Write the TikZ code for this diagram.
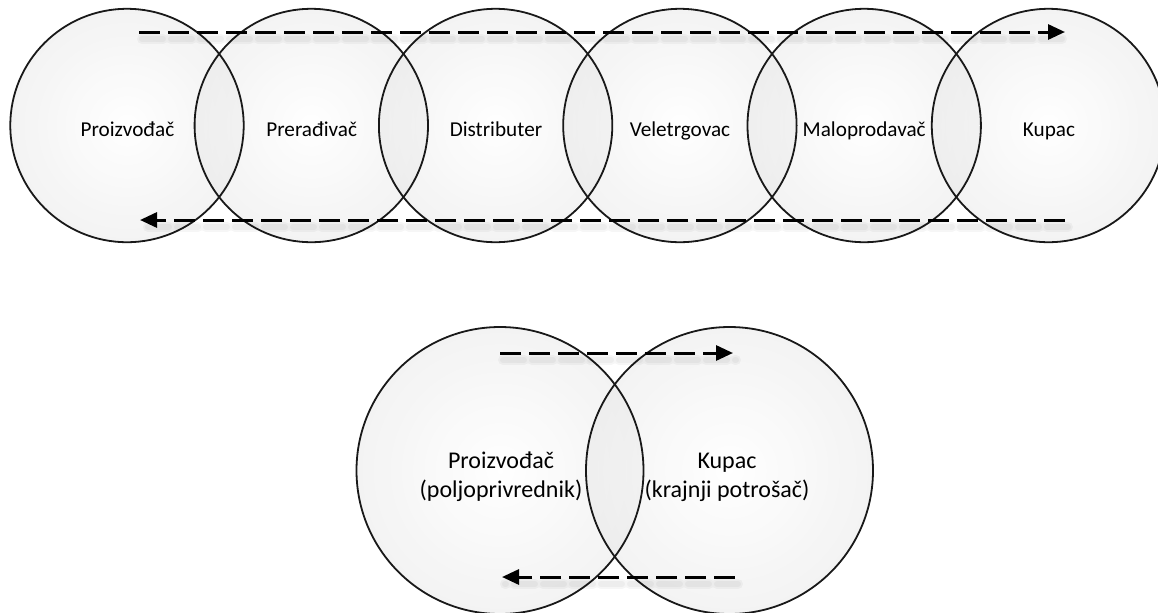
\documentclass[tikz,border=0pt]{standalone}
\usepackage{fontspec}
\setmainfont{Carlito}
\usetikzlibrary{arrows.meta}
\begin{document}
\begin{tikzpicture}[x=0.5pt,y=-0.5pt,
  bubble/.style={circle, minimum size=#1, inner sep=0pt, inner color=white, outer color=black!10, fill opacity=0.45},
  ring/.style={draw=black!90, line width=0.9pt},
  toplabel/.style={font=\fontsize{10.6pt}{12.9pt}\selectfont, anchor=base, inner sep=0pt},
  botlabel/.style={font=\fontsize{12pt}{14.25pt}\selectfont, anchor=base, inner sep=0pt, align=center},
  flow/.style={line width=1.5pt, dash pattern=on 10.5pt off 4pt, -{Triangle[length=8.5pt,width=7.5pt]}},
  flowshadow/.style={line width=#1, black, opacity=0.035, dash pattern=on 10.5pt off 4pt, line cap=round}
]
\useasboundingbox (0,0) rectangle (1158,612);
\fill[white] (0,0) rectangle (1158,612);

% top row circles
\node[bubble=116.7pt] (c1) at (127,125.5) {};
\node[bubble=116.7pt] (c2) at (311.3,125.5) {};
\node[bubble=116.7pt] (c3) at (495.6,125.5) {};
\node[bubble=116.7pt] (c4) at (679.9,125.5) {};
\node[bubble=116.7pt] (c5) at (864.2,125.5) {};
\node[bubble=116.7pt] (c6) at (1048.5,125.5) {};
\foreach \n in {c1,c2,c3,c4,c5,c6} {\draw[ring] (\n.center) circle[radius=58.35pt];}

% bottom circles
\node[bubble=143.5pt] (p1) at (500,470.5) {};
\node[bubble=143.5pt] (p2) at (729.5,470.5) {};
\foreach \n in {p1,p2} {\draw[ring] (\n.center) circle[radius=71.75pt];}

% labels
\node[toplabel] (t1) at (127.5,136.7) {Proizvođač};
\node[toplabel] (t2) at (311.7,136.7) {Prerađivač};
\node[toplabel] (t3) at (496,136.7) {Distributer};
\node[toplabel] (t4) at (680,136.7) {Veletrgovac};
\node[toplabel] (t5) at (864.2,136.7) {Maloprodavač};
\node[toplabel] (t6) at (1049,136.7) {Kupac};
\node[botlabel] (u1) at (501,497) {Proizvođač\\(poljoprivrednik)};
\node[botlabel] (u2) at (727,497) {Kupac\\(krajnji potrošač)};

% arrow end points
\coordinate (f1s) at (139,32);   \coordinate (f1e) at (1065,32);
\coordinate (b1s) at (1065,220); \coordinate (b1e) at (140,220);
\coordinate (f2s) at (500,353);  \coordinate (f2e) at (733,353);
\coordinate (b2s) at (735,577);  \coordinate (b2e) at (502,577);

% soft shadows
\foreach \a/\b in {f1s/f1e,b1s/b1e,f2s/f2e,b2s/b2e} {
  \draw[flowshadow=5pt] ([shift={(3,7)}]\a) -- ([shift={(3,7)}]\b);
  \draw[flowshadow=3pt] ([shift={(3,7)}]\a) -- ([shift={(3,7)}]\b);
}
% arrows
\draw[flow] (f1s) -- (f1e);
\draw[flow] (b1s) -- (b1e);
\draw[flow] (f2s) -- (f2e);
\draw[flow] (b2s) -- (b2e);
\end{tikzpicture}
\end{document}
